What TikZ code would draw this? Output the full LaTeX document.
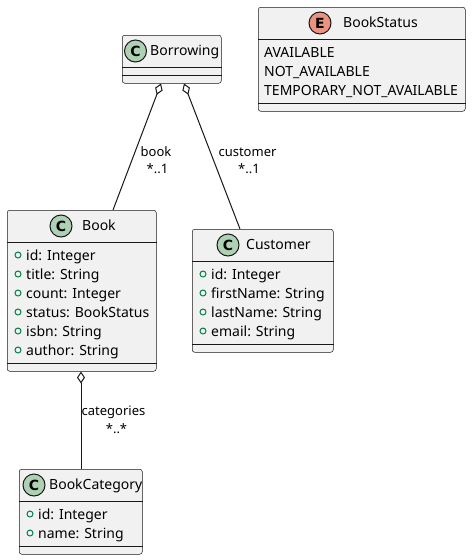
\documentclass[tikz,border=0pt]{standalone}
\usepackage{fontspec}
\setmainfont{Noto Sans}
\newfontfamily\circfont{DejaVu Sans}
\usetikzlibrary{arrows.meta,calc}
\definecolor{umlline}{HTML}{181818}
\definecolor{umlfill}{HTML}{F1F1F1}
\definecolor{classc}{HTML}{ADD1B2}
\definecolor{enume}{HTML}{EB937F}
\definecolor{pubicon}{HTML}{038048}
\tikzset{
 umlbox/.style={draw=umlline, line width=0.5pt, fill=umlfill, rounded corners=2.5pt, inner sep=0pt, anchor=north west},
 sepline/.style={draw=umlline, line width=0.5pt},
 hcirc/.style={circle, draw=umlline, line width=1pt, minimum size=22pt, inner sep=0pt, font=\circfont\fontsize{14}{14}\selectfont\bfseries},
 cname/.style={anchor=base west, inner sep=0pt, font=\fontsize{14}{16}\selectfont},
 member/.style={anchor=base west, inner sep=0pt, font=\fontsize{14}{16}\selectfont},
 pub/.style={circle, draw=pubicon, line width=1pt, minimum size=6pt, inner sep=0pt},
 elabel/.style={anchor=base, inner sep=0pt, font=\fontsize{13}{15}\selectfont},
 aggr/.style={draw=umlline, line width=1pt, {Diamond[open, length=12pt, width=8pt]}-},
}
\begin{document}
\begin{tikzpicture}[x=1pt,y=-1pt]
\useasboundingbox[fill=white] (0,0) rectangle (472,560);

% ---------- Borrowing ----------
\node[umlbox, minimum width=99pt, minimum height=48pt] (borrowing) at (122,35) {};
\node[hcirc, fill=classc] (borrowingcirc) at (135.5,51) {C};
\node[cname] (borrowingname) at (150,55.85) {Borrowing};
\draw[sepline] ($(borrowing.north west)+(0,32)$) -- ($(borrowing.north east)+(0,32)$);
\draw[sepline] ($(borrowing.north west)+(0,40)$) -- ($(borrowing.north east)+(0,40)$);

% ---------- BookStatus ----------
\node[umlbox, minimum width=207pt, minimum height=104pt] (bookstatus) at (258,7) {};
\node[hcirc, fill=enume] (bookstatuscirc) at (320,23) {E};
\node[cname] (bookstatusname) at (343,27.85) {BookStatus};
\draw[sepline] ($(bookstatus.north west)+(0,32)$) -- ($(bookstatus.north east)+(0,32)$);
\node[member] (bs1) at (264,57) {AVAILABLE};
\node[member] (bs2) at (264,76) {NOT\_AVAILABLE};
\node[member] (bs3) at (264,95) {TEMPORARY\_NOT\_AVAILABLE};
\draw[sepline] ($(bookstatus.south west)+(0,-8)$) -- ($(bookstatus.south east)+(0,-8)$);

% ---------- Book ----------
\node[umlbox, minimum width=149pt, minimum height=161pt] (book) at (7,210) {};
\node[hcirc, fill=classc] (bookcirc) at (61,226) {C};
\node[cname] (bookname) at (82,230.85) {Book};
\draw[sepline] ($(book.north west)+(0,32)$) -- ($(book.north east)+(0,32)$);
\node[pub] (bi1) at (18,255) {};
\node[member] (bm1) at (26,260) {id: Integer};
\node[pub] (bi2) at (18,274) {};
\node[member] (bm2) at (26,279) {title: String};
\node[pub] (bi3) at (18,293) {};
\node[member] (bm3) at (26,298) {count: Integer};
\node[pub] (bi4) at (18,312) {};
\node[member] (bm4) at (26,317) {status: BookStatus};
\node[pub] (bi5) at (18,331) {};
\node[member] (bm5) at (26,336) {isbn: String};
\node[pub] (bi6) at (18,350) {};
\node[member] (bm6) at (26,355) {author: String};
\draw[sepline] ($(book.south west)+(0,-8)$) -- ($(book.south east)+(0,-8)$);

% ---------- Customer ----------
\node[umlbox, minimum width=141pt, minimum height=123pt] (customer) at (192,229) {};
\node[hcirc, fill=classc] (customercirc) at (228,245) {C};
\node[cname] (customername) at (246,249.85) {Customer};
\draw[sepline] ($(customer.north west)+(0,32)$) -- ($(customer.north east)+(0,32)$);
\node[pub] (ci1) at (203,274) {};
\node[member] (cm1) at (211,279) {id: Integer};
\node[pub] (ci2) at (203,293) {};
\node[member] (cm2) at (211,298) {firstName: String};
\node[pub] (ci3) at (203,312) {};
\node[member] (cm3) at (211,317) {lastName: String};
\node[pub] (ci4) at (203,331) {};
\node[member] (cm4) at (211,336) {email: String};
\draw[sepline] ($(customer.south west)+(0,-8)$) -- ($(customer.south east)+(0,-8)$);

% ---------- BookCategory ----------
\node[umlbox, minimum width=123pt, minimum height=85pt] (bookcategory) at (19,469) {};
\node[hcirc, fill=classc] (bookcategorycirc) at (34,485) {C};
\node[cname] (bookcategoryname) at (49,489.85) {BookCategory};
\draw[sepline] ($(bookcategory.north west)+(0,32)$) -- ($(bookcategory.north east)+(0,32)$);
\node[pub] (gi1) at (30,514) {};
\node[member] (gm1) at (38,519) {id: Integer};
\node[pub] (gi2) at (30,533) {};
\node[member] (gm2) at (38,538) {name: String};
\draw[sepline] ($(bookcategory.south west)+(0,-8)$) -- ($(bookcategory.south east)+(0,-8)$);

% ---------- connectors ----------
\coordinate (brbook) at ($(borrowing.south west)+(39,0)$);
\coordinate (brcust) at ($(borrowing.south west)+(62,0)$);
\coordinate (booktop) at ($(book.north west)+(106,0)$);
\coordinate (custtop) at ($(customer.north west)+(48,0)$);
\coordinate (bookbot) at ($(book.south west)+(74,0)$);
\coordinate (cattop) at ($(bookcategory.north west)+(62,0)$);

\draw[aggr] (brbook) -- (booktop);
\draw[aggr] (brcust) -- (custtop);
\draw[aggr] (bookbot) -- (cattop);

\node[elabel] (lbook) at (156,156) {book};
\node[elabel] (mbook) at (157.5,173) {*..1};
\node[elabel] (lcust) at (247.5,156) {customer};
\node[elabel] (mcust) at (249,173) {*..1};
\node[elabel] (lcat) at (113.5,415) {categories};
\node[elabel] (mcat) at (116.5,433) {*..*};
\end{tikzpicture}
\end{document}
